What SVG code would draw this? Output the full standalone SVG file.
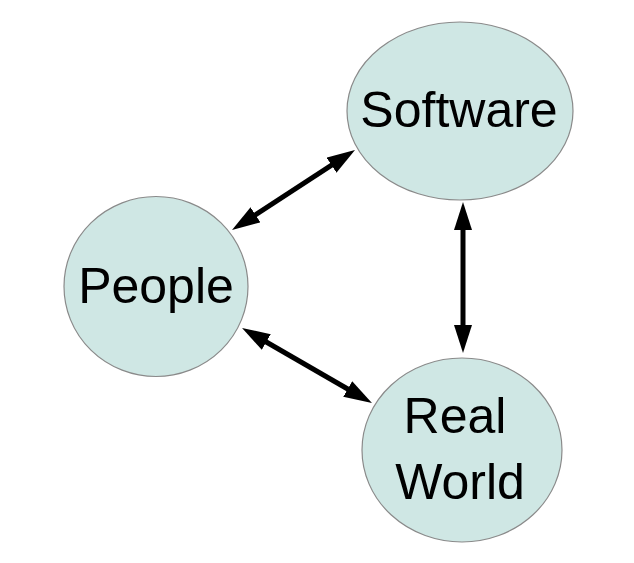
<svg xmlns="http://www.w3.org/2000/svg" width="634" height="563" viewBox="0 0 634 563">
<style>
.node{fill:#cfe7e4;stroke:#8a8a8a;stroke-width:1.2}
.lbl{font-family:"Liberation Sans",Arial,sans-serif;font-size:50px;fill:#000;text-anchor:middle}
.conn{stroke:#000;stroke-width:5;fill:none;marker-start:url(#ah);marker-end:url(#ah)}
</style>
<defs>
<marker id="ah" viewBox="0 0 28 18" refX="12" refY="9" markerWidth="28" markerHeight="18" markerUnits="userSpaceOnUse" orient="auto-start-reverse">
<path d="M0,0 L28,9 L0,18 z" fill="#000"/>
</marker>
</defs>
<rect width="634" height="563" fill="#fff"/>
<g id="software"><ellipse class="node" cx="460" cy="111" rx="113" ry="89"/><text class="lbl" x="459" y="127">Software</text></g>
<g id="people"><ellipse class="node" cx="156" cy="286.5" rx="92" ry="90"/><text class="lbl" x="156" y="303">People</text></g>
<g id="realworld"><ellipse class="node" cx="462" cy="450" rx="100" ry="92"/><text class="lbl" x="455" y="433">Real</text><text class="lbl" x="460" y="499">World</text></g>
<g id="connectors">
<line class="conn" x1="245.4" y1="221.3" x2="341.6" y2="158.7"/>
<line class="conn" x1="255.9" y1="336" x2="358.1" y2="395"/>
<line class="conn" x1="463" y1="218" x2="463" y2="337"/>
</g>
</svg>
